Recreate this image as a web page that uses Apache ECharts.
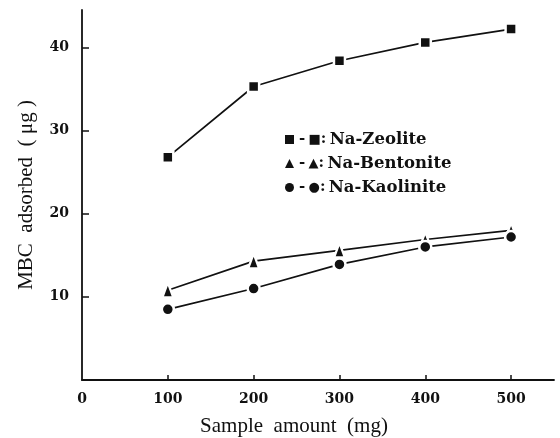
<!DOCTYPE html>
<html>
<head>
<meta charset="utf-8">
<script src="https://cdn.jsdelivr.net/npm/echarts@6/dist/echarts.min.js"></script>
<style>
html,body{margin:0;padding:0;background:#fff;}
#chart{width:560px;height:438px;}
</style>
</head>
<body>
<div id="chart"></div>
<script>
var sampleAmount = [100, 200, 300, 400, 500];
var zeolite = [26.8, 35.3, 38.4, 40.6, 42.2];
var bentonite = [10.8, 14.3, 15.6, 16.9, 18.0];
var kaolinite = [8.5, 11.0, 13.9, 16.0, 17.2];
var xTickLabels = [0, 100, 200, 300, 400, 500];
var xTicks = [100, 200, 300, 400, 500];
var yTickLabels = [10, 20, 30, 40];
var seriesNames = ['Na-Zeolite', 'Na-Bentonite', 'Na-Kaolinite'];
var glyphs = {'Na-Zeolite': '■', 'Na-Bentonite': '▲', 'Na-Kaolinite': '●'};

function pairs(ys) { return sampleAmount.map(function (x, i) { return [x, ys[i]]; }); }

var chart = echarts.init(document.getElementById('chart'), null, {renderer: 'canvas'});
var ink = '#111';
function mkSeries(name, ys, symbol, size) {
  return {
    name: name, type: 'line', data: pairs(ys), symbol: symbol, symbolSize: size,
    lineStyle: {color: ink, width: 1.7},
    itemStyle: {color: ink, borderColor: '#fff', borderWidth: 2.5},
    emphasis: {disabled: true}, animation: false
  };
}
chart.setOption({
  backgroundColor: '#fff',
  animation: false,
  grid: {left: 82, top: 10, right: 6, bottom: 58, outerBoundsMode: 'none'},
  legend: {
    orient: 'vertical', left: 280, top: 126, itemGap: 7,
    itemWidth: 9, itemHeight: 9,
    data: [
      {name: 'Na-Zeolite', icon: 'rect'},
      {name: 'Na-Bentonite', icon: 'triangle'},
      {name: 'Na-Kaolinite', icon: 'circle'}
    ],
    formatter: function (n) { return '{d|-} {g|' + glyphs[n] + '}{d|:} {t|' + n + '}'; },
    textStyle: {
      color: ink,
      rich: {
        d: {fontFamily: 'DejaVu Serif', fontWeight: 'bold', fontSize: 15, color: ink},
        g: {fontFamily: 'DejaVu Sans', fontSize: 13, color: ink},
        t: {fontFamily: 'DejaVu Serif', fontWeight: 'bold', fontSize: 16.5, color: ink}
      }
    },
    itemStyle: {borderWidth: 0}
  },
  xAxis: {
    type: 'value', min: 0, max: 550,
    name: 'Sample  amount  (mg)', nameLocation: 'middle', nameGap: 36,
    nameTextStyle: {fontFamily: 'Liberation Serif', fontSize: 21, color: ink, padding: [0, 48, 0, 0]},
    axisLine: {show: true, lineStyle: {color: ink, width: 1.8}},
    axisTick: {show: true, inside: true, length: 5, customValues: xTicks, lineStyle: {color: ink, width: 1.5}},
    axisLabel: {customValues: xTickLabels, margin: 12, fontFamily: 'DejaVu Serif', fontWeight: 'bold', fontSize: 14, color: ink},
    splitLine: {show: false}
  },
  yAxis: {
    type: 'value', min: 0, max: 44.5,
    name: 'MBC  adsorbed  ( μg )', nameLocation: 'middle', nameGap: 45,
    nameTextStyle: {fontFamily: 'Liberation Serif', fontSize: 21, color: ink},
    axisLine: {show: true, lineStyle: {color: ink, width: 1.8}},
    axisTick: {show: true, inside: true, length: 7, customValues: yTickLabels, lineStyle: {color: ink, width: 1.5}},
    axisLabel: {customValues: yTickLabels, margin: 13, fontFamily: 'DejaVu Serif', fontWeight: 'bold', fontSize: 14, color: ink},
    splitLine: {show: false}
  },
  series: [
    mkSeries(seriesNames[0], zeolite, 'rect', 11),
    mkSeries(seriesNames[1], bentonite, 'triangle', [11, 15]),
    mkSeries(seriesNames[2], kaolinite, 'circle', 12)
  ]
});
</script>
</body>
</html>
